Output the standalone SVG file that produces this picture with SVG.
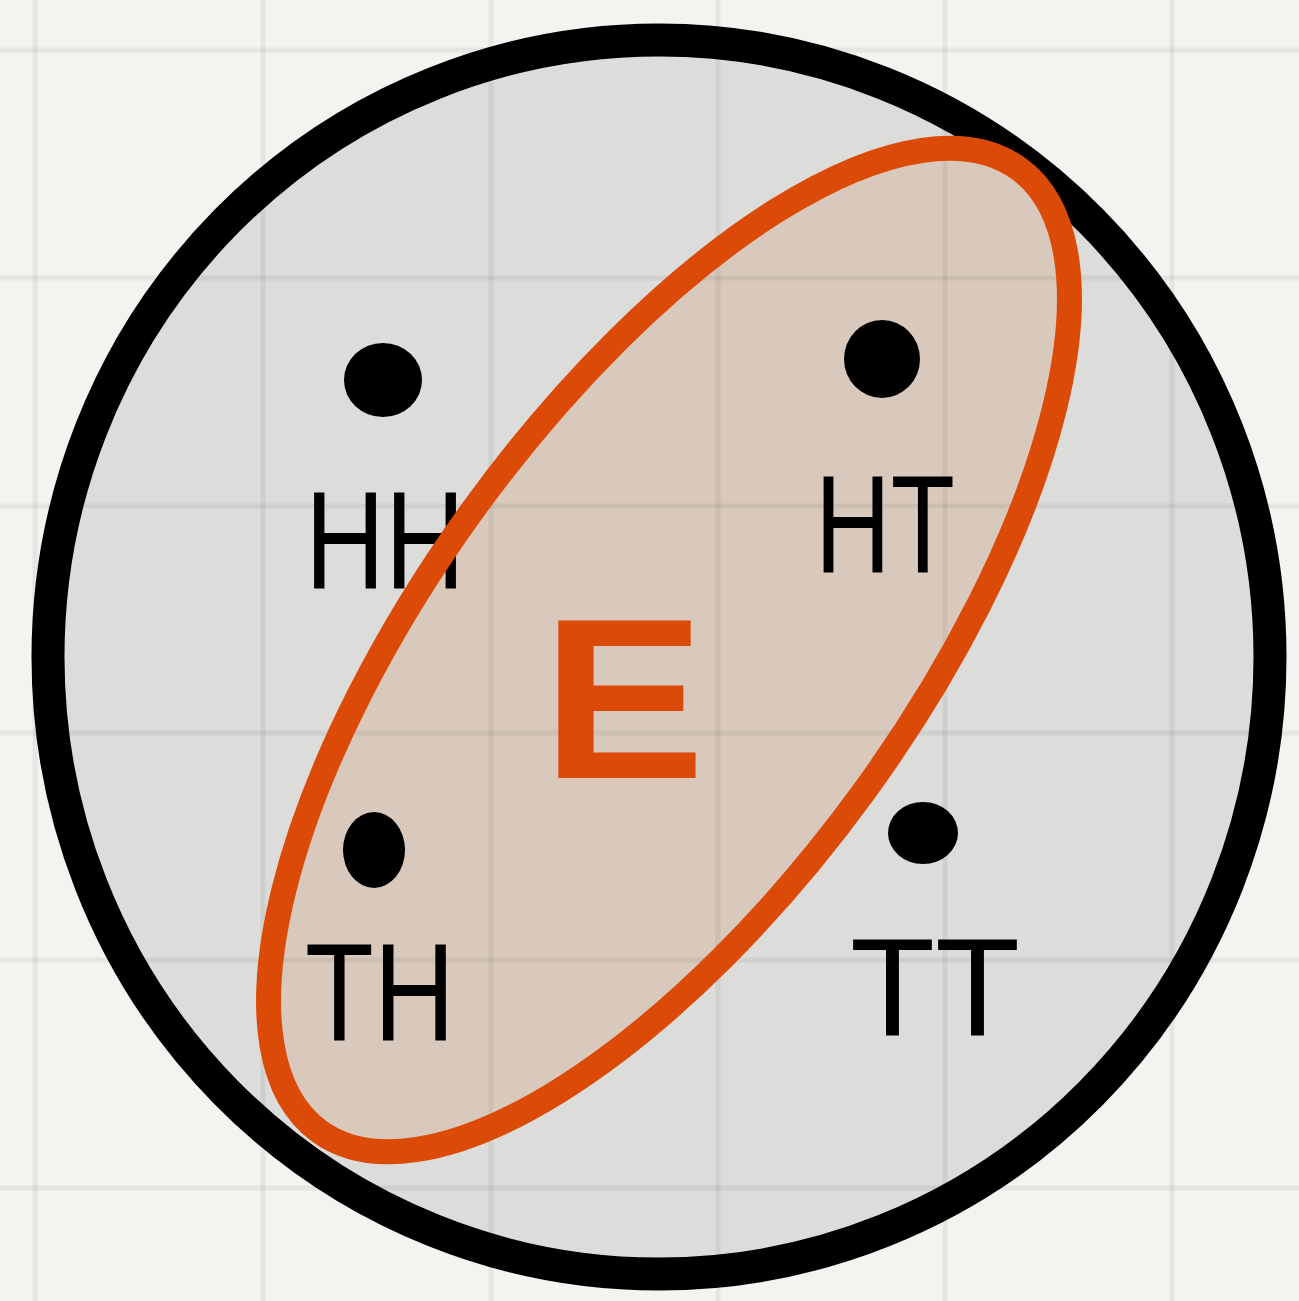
<svg xmlns="http://www.w3.org/2000/svg" width="1299" height="1301" viewBox="0 0 1299 1301">
  <style>
    .grid line { stroke: #000; stroke-opacity: 0.055; stroke-width: 5; }
    .dot { fill: #000; }
    .lbl { font-family: "Liberation Sans", Arial, sans-serif; font-size: 140px; fill: #000; }
  </style>
  <rect x="0" y="0" width="1299" height="1301" fill="#f4f3f0"/>
  <g id="sample-space-fill">
    <ellipse cx="659" cy="657" rx="611" ry="617" fill="#dcdcda"/>
  </g>
  <g id="event-fill">
    <ellipse cx="669" cy="650" rx="595" ry="241" transform="rotate(-54 669 650)" fill="#d9c9bd"/>
  </g>
  <g class="grid" id="grid">
    <line x1="35" y1="0" x2="35" y2="1301"/>
    <line x1="263" y1="0" x2="263" y2="1301"/>
    <line x1="491" y1="0" x2="491" y2="1301"/>
    <line x1="718" y1="0" x2="718" y2="1301"/>
    <line x1="945" y1="0" x2="945" y2="1301"/>
    <line x1="1172" y1="0" x2="1172" y2="1301"/>
    <line x1="0" y1="50" x2="1299" y2="50"/>
    <line x1="0" y1="278" x2="1299" y2="278"/>
    <line x1="0" y1="506" x2="1299" y2="506"/>
    <line x1="0" y1="733" x2="1299" y2="733"/>
    <line x1="0" y1="960" x2="1299" y2="960"/>
    <line x1="0" y1="1188" x2="1299" y2="1188"/>
  </g>
  <g id="sample-space">
    <ellipse cx="659" cy="657" rx="611" ry="617" fill="none" stroke="#000" stroke-width="33"/>
  </g>
  <g id="HH">
    <ellipse class="dot" cx="383" cy="380" rx="39" ry="37"/>
    <text class="lbl" x="305" y="588" textLength="160" lengthAdjust="spacingAndGlyphs">HH</text>
  </g>
  <g id="HT">
    <ellipse class="dot" cx="882" cy="359" rx="38" ry="39"/>
    <text class="lbl" x="815" y="572" textLength="140" lengthAdjust="spacingAndGlyphs">HT</text>
  </g>
  <g id="TH">
    <ellipse class="dot" cx="374" cy="850" rx="31" ry="38"/>
    <text class="lbl" x="305" y="1040" textLength="150" lengthAdjust="spacingAndGlyphs">TH</text>
  </g>
  <g id="TT">
    <ellipse class="dot" cx="923" cy="833" rx="35" ry="31"/>
    <text class="lbl" x="850" y="1035" textLength="170" lengthAdjust="spacingAndGlyphs">TT</text>
  </g>
  <g id="event-E">
    <ellipse cx="669" cy="650" rx="595" ry="241" transform="rotate(-54 669 650)" fill="none" stroke="#dc4a08" stroke-width="25"/>
    <text x="542" y="778" font-family="Liberation Sans, Arial, sans-serif" font-weight="bold" font-size="228" fill="#dc4a08" textLength="163" lengthAdjust="spacingAndGlyphs">E</text>
  </g>
</svg>
